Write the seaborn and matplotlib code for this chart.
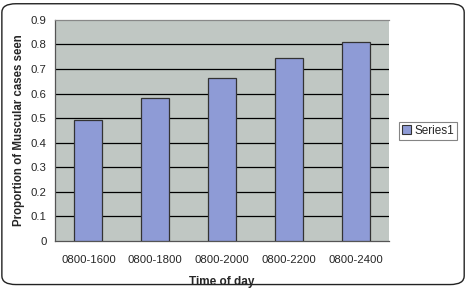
import matplotlib
matplotlib.use("Agg")
import matplotlib.pyplot as plt
import seaborn as sns
import pandas as pd
from matplotlib.patches import FancyBboxPatch, Patch

categories = ["0800-1600", "0800-1800", "0800-2000", "0800-2200", "0800-2400"]
values = [0.494, 0.582, 0.664, 0.746, 0.811]
y_ticks = [0, 0.1, 0.2, 0.3, 0.4, 0.5, 0.6, 0.7, 0.8, 0.9]
series_name = "Series1"

sns.set_style("white")
plt.rcParams["font.family"] = ["Liberation Sans", "DejaVu Sans"]

df = pd.DataFrame({"Time of day": categories, "value": values})

fig = plt.figure(figsize=(4.67, 2.88), dpi=100)
fig.patch.set_facecolor("white")
border = FancyBboxPatch((0.004, 0.012), 0.99, 0.975,
                        boxstyle="round,pad=0,rounding_size=0.03",
                        transform=fig.transFigure, facecolor="white",
                        edgecolor="#222222", linewidth=1.0, zorder=-5)
fig.patches.append(border)

ax = fig.add_axes([0.1178, 0.163, 0.7152, 0.768])
ax.set_facecolor("#c0c7c3")

bar_color = "#8e9bd6"
sns.barplot(data=df, x="Time of day", y="value", color=bar_color,
            width=0.42, edgecolor="#333333", linewidth=0.9,
            saturation=1, ax=ax, zorder=3)

ax.set_ylim(0, 0.9)
ax.set_xlim(-0.5, 4.5)
ax.set_yticks(y_ticks)
ax.set_yticklabels([f"{t:g}" for t in y_ticks], fontsize=8.2)
for t in y_ticks[1:-1]:
    ax.axhline(t, color="black", linewidth=0.9, zorder=1)

# x ticks at category boundaries, labels at centres
ax.set_xticks([i - 0.5 for i in range(len(categories) + 1)])
ax.set_xticklabels([""] * (len(categories) + 1))
ax.set_xticks(range(len(categories)), minor=True)
ax.set_xticklabels(categories, minor=True, fontsize=8.2)
ax.tick_params(axis="x", which="minor", length=0, pad=10)
ax.tick_params(axis="x", which="major", length=4, width=0.8, color="#444444", direction="out")
ax.tick_params(axis="y", length=4, width=0.8, color="#444444", direction="out", pad=2)

ax.spines["right"].set_visible(False)
ax.spines["top"].set_color("#888888")
ax.spines["top"].set_linewidth(0.9)
ax.spines["left"].set_color("#555555")
ax.spines["bottom"].set_color("#555555")
ax.spines["left"].set_linewidth(0.9)
ax.spines["bottom"].set_linewidth(0.9)

ax.set_xlabel("Time of day", fontsize=8.5, fontweight="bold", labelpad=8)
ax.set_ylabel("Proportion of Muscular cases seen", fontsize=8.3, fontweight="bold", labelpad=4)

handle = Patch(facecolor=bar_color, edgecolor="#333333", linewidth=0.8)
leg = fig.legend([handle], [series_name], loc="center left",
                 bbox_to_anchor=(0.855, 0.546), fontsize=8.5,
                 frameon=True, fancybox=False, handlelength=0.7,
                 handleheight=0.7, handletextpad=0.3, borderpad=0.25,
                 borderaxespad=0)
leg.get_frame().set_edgecolor("#666666")
leg.get_frame().set_linewidth(0.8)

fig.savefig("out.png", dpi=100)
